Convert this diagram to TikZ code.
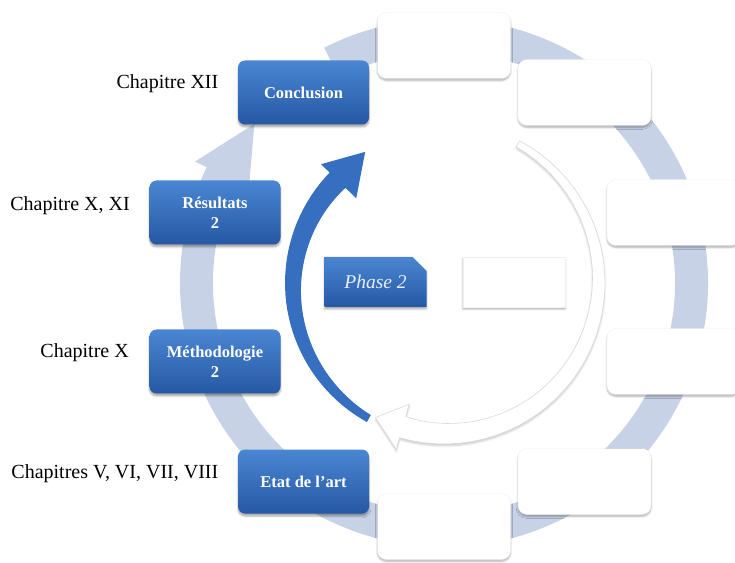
\documentclass[tikz,border=0pt]{standalone}
\usepackage{fontspec}
\setmainfont{Liberation Serif}
\usepackage{tikz}
\usetikzlibrary{positioning,shapes.misc,shadows.blur}

\definecolor{ringblue}{RGB}{199,210,230}
\definecolor{boxtop}{RGB}{74,134,210}
\definecolor{boxbot}{RGB}{38,88,164}
\definecolor{arcblue}{RGB}{54,110,192}
\definecolor{phasetext}{RGB}{232,239,250}

\tikzset{
	chapbox/.style={rounded corners=7pt, minimum width=131pt, minimum height=64pt,
		top color=boxtop, bottom color=boxbot, text=white, align=center,
		font=\fontsize{16.5}{20}\selectfont\bfseries,
		blur shadow={shadow xshift=0pt, shadow yshift=-2.5pt, shadow blur steps=5, shadow opacity=35}},
	emptybox/.style={rounded corners=9pt, minimum width=133pt, minimum height=66pt,
		fill=white, draw=gray!12,
		blur shadow={shadow xshift=0pt, shadow yshift=-2pt, shadow blur steps=5, shadow opacity=30}},
	chaplabel/.style={font=\fontsize{20}{24}\selectfont},
	phasebox/.style={chamfered rectangle, chamfered rectangle corners=north east,
		chamfered rectangle xsep=7pt, chamfered rectangle ysep=7pt,
		minimum width=102pt, minimum height=50pt, inner sep=0pt,
		top color=boxtop, bottom color=boxbot, text=phasetext,
		font=\fontsize{19.5}{22}\selectfont\itshape,
		blur shadow={shadow xshift=0pt, shadow yshift=-2pt, shadow blur steps=4, shadow opacity=35}}
}

\begin{document}
\begin{tikzpicture}[x=1pt, y=1pt]
	\useasboundingbox (0,0) rectangle (735,562);
	% Cycle
	\begin{scope}[shift={(444,279)}]
		\fill[ringblue] (117:264) arc[start angle=117, end angle=-206, radius=264]
			-- (154:277) -- (140:247.5) -- (154:217) -- (154:231)
			arc[start angle=-206, end angle=117, radius=231] -- cycle;
		\fill[arcblue] plot[domain=241:136, samples=40] (\x:159)
			-- (136:171) -- (121:153) -- (136:122)
			-- plot[domain=136:241, samples=40] (\x:{137+14*(\x-136)/105}) -- cycle;
		\filldraw[fill=white, draw=gray!30, line width=0.6pt,
			blur shadow={shadow xshift=0pt, shadow yshift=-2pt, shadow blur steps=4, shadow opacity=20}]
			plot[domain=62:-106, samples=40] (\x:161)
			-- (-106:173) -- (-117:151) -- (-106:126)
			-- plot[domain=-106:62, samples=40] (\x:{139+15*(\x+106)/168}) -- cycle;
	\end{scope}
	% Nodes
	\node[chapbox] (conclusion) at (303.5,469.5) {Conclusion};
	\node[chapbox] (resultats) at (215,349.5) {Résultats\\2};
	\node[chapbox] (methodo) at (215,200.5) {Méthodologie\\2};
	\node[chapbox] (etat) at (303.5,80.5) {Etat de l'art};
	\foreach \i/\px/\py in {1/444/516.5, 2/584.5/469.5, 3/673.5/349.5, 4/673.5/200.5, 5/584.5/80.5, 6/444/35.5} {
		\node[emptybox] (vide\i) at (\px,\py) {};
	}
	\node[phasebox] (phase) at (375.5,280) {Phase 2};
	\node[phasebox, chamfered rectangle corners=north west, chamfered rectangle xsep=3pt,
		chamfered rectangle ysep=3pt, top color=white, bottom color=white, draw=gray!12] (phasevide) at (514,280) {};
	% Labels
	\node[chaplabel, left=16pt of conclusion.west, yshift=9pt] (labconcl) {Chapitre XII};
	\node[chaplabel, left=16pt of resultats.west, yshift=7pt] (labres) {Chapitre X, XI};
	\node[chaplabel, left=17pt of methodo.west, yshift=9pt] (labmeth) {Chapitre X};
	\node[chaplabel, left=16pt of etat.west, yshift=8pt] (labetat) {Chapitres V, VI, VII, VIII};
\end{tikzpicture}
\end{document}
